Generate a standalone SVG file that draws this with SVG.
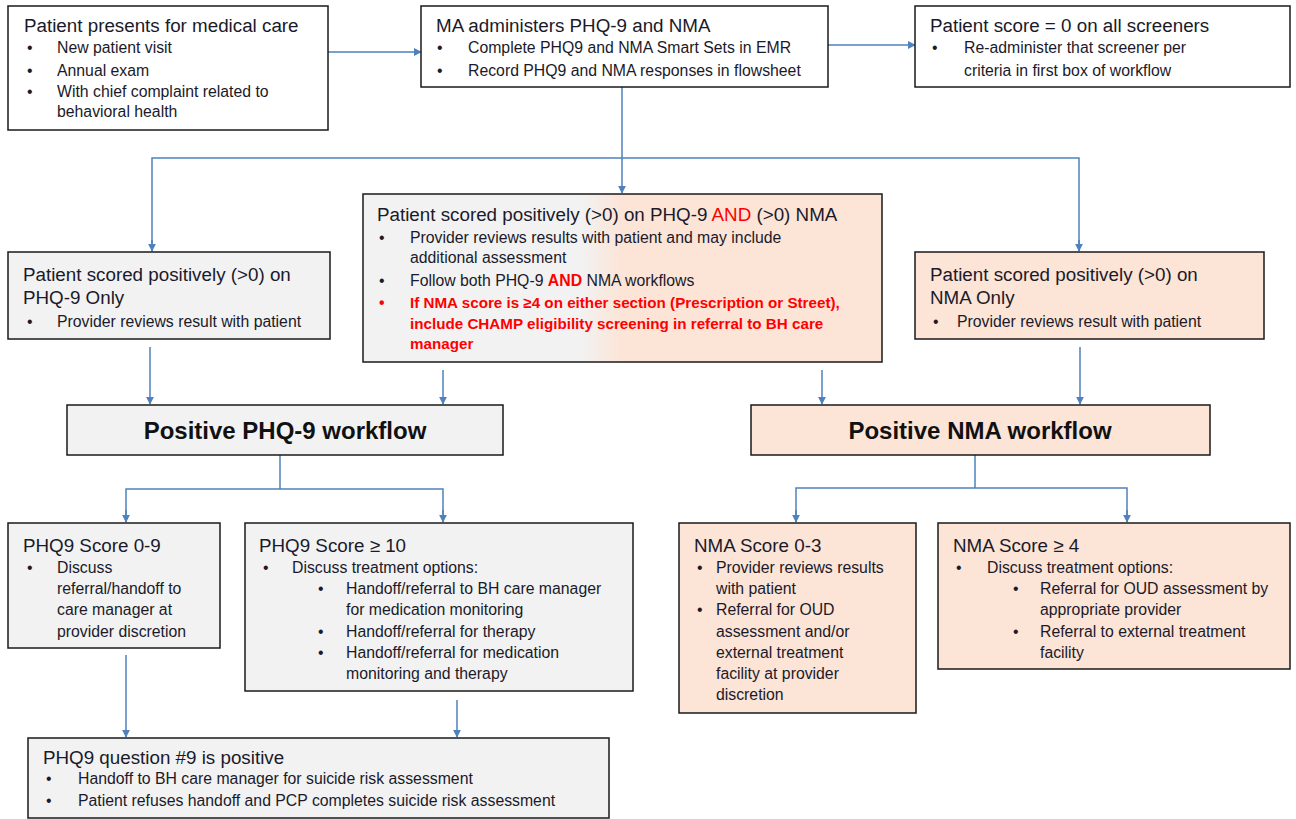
<svg xmlns="http://www.w3.org/2000/svg" width="1296" height="819" viewBox="0 0 1296 819">
<defs>
<style>
.box{stroke:#1a1a1a;stroke-width:1.5}
.w{fill:#ffffff}.g{fill:#f2f2f2}.p{fill:#fce4d6}
text{font-family:"Liberation Sans",Arial,sans-serif;fill:#1a1a2a}
.t{font-size:18.8px}
.b{font-size:15.8px}
.h{font-size:24px;font-weight:bold;text-anchor:middle;fill:#111}
.r{fill:#ff0000;font-weight:bold}
.rb{font-size:15.2px}
.rr{fill:#ff0000}
.c{fill:none;stroke:#4f81bd;stroke-width:1.5}
</style>
<marker id="a" viewBox="0 0 10 10" refX="9" refY="5" markerWidth="8" markerHeight="8" markerUnits="userSpaceOnUse" orient="auto"><path d="M0,0 L10,5 L0,10 z" fill="#4f81bd"/></marker>
<linearGradient id="gp" x1="0" y1="0" x2="1" y2="0"><stop offset="0.42" stop-color="#f2f2f2"/><stop offset="0.5" stop-color="#fce4d6"/></linearGradient>
</defs>

<g id="connectors">
<path class="c" d="M328,52 H421" marker-end="url(#a)"/>
<path class="c" d="M828,45 H915" marker-end="url(#a)"/>
<path class="c" d="M622,87 V193" marker-end="url(#a)"/>
<path class="c" d="M152,251 V158 H1079 V251" />
<path class="c" d="M152,240 V251" marker-end="url(#a)"/>
<path class="c" d="M1079,240 V251" marker-end="url(#a)"/>
<path class="c" d="M150,347 V404" marker-end="url(#a)"/>
<path class="c" d="M443,370 V404" marker-end="url(#a)"/>
<path class="c" d="M822,370 V404" marker-end="url(#a)"/>
<path class="c" d="M1080,347 V404" marker-end="url(#a)"/>
<path class="c" d="M280,455 V489 H126 V522 M280,489 H443 V522"/>
<path class="c" d="M126,510 V522" marker-end="url(#a)"/>
<path class="c" d="M443,510 V522" marker-end="url(#a)"/>
<path class="c" d="M975,455 V488 H796 V522 M975,488 H1127 V522"/>
<path class="c" d="M796,510 V522" marker-end="url(#a)"/>
<path class="c" d="M1127,510 V522" marker-end="url(#a)"/>
<path class="c" d="M126,655 V737" marker-end="url(#a)"/>
<path class="c" d="M457,700 V737" marker-end="url(#a)"/>
</g>

<g id="n1">
<rect class="box w" x="8" y="6" width="320" height="124"/>
<text class="t" x="24" y="32">Patient presents for medical care</text>
<text class="b" x="27" y="53">•</text><text class="b" x="57" y="53">New patient visit</text>
<text class="b" x="27" y="76">•</text><text class="b" x="57" y="76">Annual exam</text>
<text class="b" x="27" y="97">•</text><text class="b" x="57" y="97">With chief complaint related to</text>
<text class="b" x="57" y="117">behavioral health</text>
</g>

<g id="n2">
<rect class="box w" x="421" y="6" width="407" height="81"/>
<text class="t" x="436" y="32">MA administers PHQ-9 and NMA</text>
<text class="b" x="437" y="53">•</text><text class="b" x="468" y="53">Complete PHQ9 and NMA Smart Sets in EMR</text>
<text class="b" x="437" y="76">•</text><text class="b" x="468" y="76">Record PHQ9 and NMA responses in flowsheet</text>
</g>

<g id="n3">
<rect class="box w" x="915" y="6" width="375" height="81"/>
<text class="t" x="930" y="32">Patient score = 0 on all screeners</text>
<text class="b" x="932" y="53">•</text><text class="b" x="964" y="53">Re-administer that screener per</text>
<text class="b" x="964" y="76">criteria in first box of workflow</text>
</g>

<g id="n4">
<rect class="box" fill="url(#gp)" x="363" y="194" width="519" height="168"/>
<text class="t" x="377" y="221">Patient scored positively (&gt;0) on PHQ-9 <tspan class="rr">AND</tspan> (&gt;0) NMA</text>
<text class="b" x="379" y="243">•</text><text class="b" x="410" y="243">Provider reviews results with patient and may include</text>
<text class="b" x="410" y="263">additional assessment</text>
<text class="b" x="379" y="286">•</text><text class="b" x="410" y="286">Follow both PHQ-9 <tspan class="r">AND</tspan> NMA workflows</text>
<text class="b r" x="379" y="308">•</text><text class="rb r" x="410" y="308">If NMA score is ≥4 on either section (Prescription or Street),</text>
<text class="rb r" x="410" y="329">include CHAMP eligibility screening in referral to BH care</text>
<text class="rb r" x="410" y="349">manager</text>
</g>

<g id="n5">
<rect class="box g" x="8" y="252" width="322" height="87"/>
<text class="t" x="23" y="281">Patient scored positively (&gt;0) on</text>
<text class="t" x="23" y="304">PHQ-9 Only</text>
<text class="b" x="27" y="327">•</text><text class="b" x="57" y="327">Provider reviews result with patient</text>
</g>

<g id="n6">
<rect class="box p" x="915" y="252" width="349" height="87"/>
<text class="t" x="930" y="281">Patient scored positively (&gt;0) on</text>
<text class="t" x="930" y="304">NMA Only</text>
<text class="b" x="933" y="327">•</text><text class="b" x="957" y="327">Provider reviews result with patient</text>
</g>

<g id="n7">
<rect class="box g" x="67" y="405" width="436" height="50"/>
<text class="h" x="285" y="439">Positive PHQ-9 workflow</text>
</g>

<g id="n8">
<rect class="box p" x="751" y="405" width="459" height="50"/>
<text class="h" x="980" y="439">Positive NMA workflow</text>
</g>

<g id="n9">
<rect class="box g" x="8" y="523" width="212" height="125"/>
<text class="t" x="23" y="552">PHQ9 Score 0-9</text>
<text class="b" x="27" y="573">•</text><text class="b" x="57" y="573">Discuss</text>
<text class="b" x="57" y="594">referral/handoff to</text>
<text class="b" x="57" y="615">care manager at</text>
<text class="b" x="57" y="637">provider discretion</text>
</g>

<g id="n10">
<rect class="box g" x="245" y="523" width="388" height="168"/>
<text class="t" x="259" y="552">PHQ9 Score ≥ 10</text>
<text class="b" x="263" y="573">•</text><text class="b" x="292" y="573">Discuss treatment options:</text>
<text class="b" x="318" y="594">•</text><text class="b" x="346" y="594">Handoff/referral to BH care manager</text>
<text class="b" x="346" y="615">for medication monitoring</text>
<text class="b" x="318" y="637">•</text><text class="b" x="346" y="637">Handoff/referral for therapy</text>
<text class="b" x="318" y="658">•</text><text class="b" x="346" y="658">Handoff/referral for medication</text>
<text class="b" x="346" y="679">monitoring and therapy</text>
</g>

<g id="n11">
<rect class="box p" x="679" y="523" width="237" height="190"/>
<text class="t" x="694" y="552">NMA Score 0-3</text>
<text class="b" x="697" y="573">•</text><text class="b" x="716" y="573">Provider reviews results</text>
<text class="b" x="716" y="594">with patient</text>
<text class="b" x="697" y="615">•</text><text class="b" x="716" y="615">Referral for OUD</text>
<text class="b" x="716" y="637">assessment and/or</text>
<text class="b" x="716" y="658">external treatment</text>
<text class="b" x="716" y="679">facility at provider</text>
<text class="b" x="716" y="700">discretion</text>
</g>

<g id="n12">
<rect class="box p" x="938" y="523" width="352" height="146"/>
<text class="t" x="953" y="552">NMA Score ≥ 4</text>
<text class="b" x="956" y="573">•</text><text class="b" x="987" y="573">Discuss treatment options:</text>
<text class="b" x="1013" y="594">•</text><text class="b" x="1040" y="594">Referral for OUD assessment by</text>
<text class="b" x="1040" y="615">appropriate provider</text>
<text class="b" x="1013" y="637">•</text><text class="b" x="1040" y="637">Referral to external treatment</text>
<text class="b" x="1040" y="658">facility</text>
</g>

<g id="n13">
<rect class="box g" x="28" y="738" width="581" height="80"/>
<text class="t" x="43" y="764">PHQ9 question #9 is positive</text>
<text class="b" x="46" y="784">•</text><text class="b" x="78" y="784">Handoff to BH care manager for suicide risk assessment</text>
<text class="b" x="46" y="806">•</text><text class="b" x="78" y="806">Patient refuses handoff and PCP completes suicide risk assessment</text>
</g>
</svg>
